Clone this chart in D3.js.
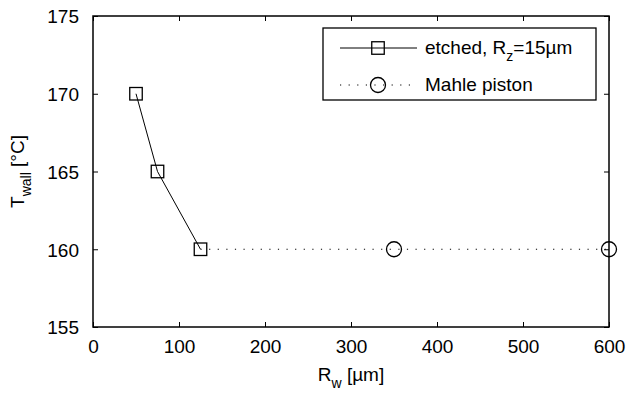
<!DOCTYPE html>
<html>
<head>
<meta charset="utf-8">
<script src="https://cdn.jsdelivr.net/npm/d3@7"></script>
<style>
  body { margin: 0; background: #fff; }
  text { font-family: "Liberation Sans", Arial, sans-serif; fill: #000; }
</style>
</head>
<body>
<svg id="chart" width="626" height="396"></svg>
<script>
// data
const etchedX = [50, 75, 125];
const etchedY = [170, 165, 160];
const mahleX = [350, 600];
const mahleY = [160, 160];
const xTicks = [0, 100, 200, 300, 400, 500, 600];
const yTicks = [155, 160, 165, 170, 175];

const svg = d3.select('#chart');
const margin = { top: 16, right: 17, bottom: 69, left: 93 },
  width = 626 - margin.left - margin.right,
  height = 396 - margin.top - margin.bottom;

const x = d3.scaleLinear().domain([0, 600]).range([0, width]);
const y = d3.scaleLinear().domain([155, 175]).range([height, 0]);

const g = svg.append('g')
  .attr('transform', 'translate(' + margin.left + ',' + margin.top + ')');

// axes (MATLAB style, ticks inward, mirrored)
const fs = 19, sub = 14;
g.append('g')
  .attr('transform', 'translate(0,' + height + ')')
  .call(d3.axisBottom(x).tickValues(xTicks).tickSize(-5).tickPadding(13).tickFormat(d3.format('d')))
  .call(a => a.select('.domain').remove())
  .selectAll('text').attr('font-size', fs);
g.append('g')
  .call(d3.axisLeft(y).tickValues(yTicks).tickSize(-5).tickPadding(14).tickFormat(d3.format('d')))
  .call(a => a.select('.domain').remove())
  .selectAll('text').attr('font-size', fs).attr('dy', '0.36em');
g.append('g')
  .call(d3.axisTop(x).tickValues(xTicks).tickSize(-5).tickFormat(''))
  .call(a => a.select('.domain').remove());
g.append('g')
  .attr('transform', 'translate(' + width + ',0)')
  .call(d3.axisRight(y).tickValues(yTicks).tickSize(-5).tickFormat(''))
  .call(a => a.select('.domain').remove());
g.selectAll('.tick line').attr('stroke', '#000').attr('stroke-width', 1);

g.append('rect')
  .attr('width', width).attr('height', height)
  .attr('fill', 'none').attr('stroke', '#000').attr('stroke-width', 1.5);

// dotted Mahle line, starts at the last etched point
const mahleLineX = [etchedX[etchedX.length - 1]].concat(mahleX);
const mahleLineY = [etchedY[etchedY.length - 1]].concat(mahleY);
const line = d3.line().x(d => x(d[0])).y(d => y(d[1]));

g.append('path')
  .datum(d3.zip(mahleLineX, mahleLineY))
  .attr('d', line)
  .attr('fill', 'none').attr('stroke', '#000').attr('stroke-width', 1)
  .attr('stroke-dasharray', '1.2,7.4');

g.append('path')
  .datum(d3.zip(etchedX, etchedY))
  .attr('d', line)
  .attr('fill', 'none').attr('stroke', '#000').attr('stroke-width', 1);

const sq = 12.5;
g.selectAll('.sq')
  .data(d3.zip(etchedX, etchedY))
  .enter().append('rect')
  .attr('class', 'sq')
  .attr('x', d => x(d[0]) - sq / 2)
  .attr('y', d => y(d[1]) - sq / 2)
  .attr('width', sq).attr('height', sq)
  .attr('fill', 'none').attr('stroke', '#000').attr('stroke-width', 1.3);

g.selectAll('.circ')
  .data(d3.zip(mahleX, mahleY))
  .enter().append('circle')
  .attr('class', 'circ')
  .attr('cx', d => x(d[0]))
  .attr('cy', d => y(d[1]))
  .attr('r', 7.5)
  .attr('fill', 'none').attr('stroke', '#000').attr('stroke-width', 1.3);

// axis labels
const xl = svg.append('text')
  .attr('x', margin.left + width / 2).attr('y', 381)
  .attr('text-anchor', 'middle').attr('font-size', fs);
xl.append('tspan').text('R');
xl.append('tspan').attr('font-size', sub).attr('dy', 7).text('w');
xl.append('tspan').attr('dy', -7).text(' [\u00b5m]');

const yl = svg.append('text')
  .attr('transform', 'translate(24,' + (margin.top + height / 2) + ') rotate(-90)')
  .attr('text-anchor', 'middle').attr('font-size', fs);
yl.append('tspan').text('T');
yl.append('tspan').attr('font-size', sub).attr('dy', 7).text('wall');
yl.append('tspan').attr('dy', -7).text(' [\u00b0C]');

// legend
const lg = svg.append('g');
lg.append('rect')
  .attr('x', 323).attr('y', 28).attr('width', 273).attr('height', 72)
  .attr('fill', '#fff').attr('stroke', '#000').attr('stroke-width', 1.3);

lg.append('line')
  .attr('x1', 340).attr('x2', 417).attr('y1', 48).attr('y2', 48)
  .attr('stroke', '#000').attr('stroke-width', 1);
lg.append('rect')
  .attr('x', 378 - sq / 2).attr('y', 48 - sq / 2).attr('width', sq).attr('height', sq)
  .attr('fill', 'none').attr('stroke', '#000').attr('stroke-width', 1.3);
const t1 = lg.append('text').attr('x', 425).attr('y', 54).attr('font-size', fs);
t1.append('tspan').text('etched, R');
t1.append('tspan').attr('font-size', sub).attr('dy', 7).text('z');
t1.append('tspan').attr('dy', -7).text('=15\u00b5m');

lg.append('line')
  .attr('x1', 340).attr('x2', 417).attr('y1', 85).attr('y2', 85)
  .attr('stroke', '#000').attr('stroke-width', 1)
  .attr('stroke-dasharray', '1.2,7.4');
lg.append('circle')
  .attr('cx', 378).attr('cy', 85).attr('r', 7.5)
  .attr('fill', 'none').attr('stroke', '#000').attr('stroke-width', 1.3);
lg.append('text').attr('x', 425).attr('y', 91).attr('font-size', fs).text('Mahle piston');
</script>
</body>
</html>
